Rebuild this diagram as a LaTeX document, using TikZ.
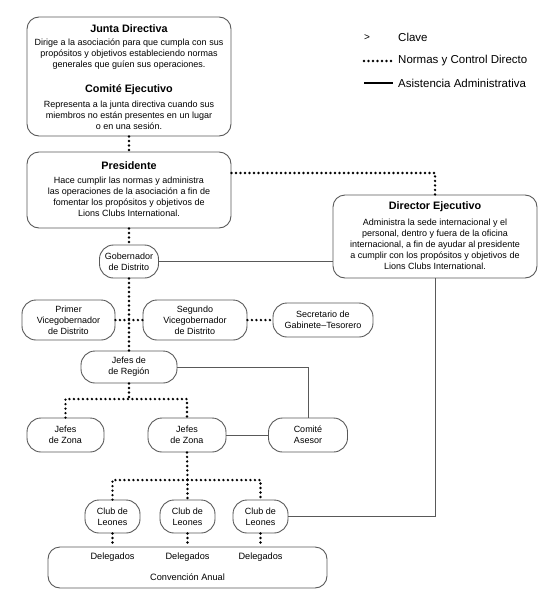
\documentclass[tikz,border=0pt]{standalone}
\usepackage{fontspec}
\setmainfont{Liberation Sans}
\begin{document}
\begin{tikzpicture}[x=1pt,y=-1pt,
  box/.style={draw=black!65, line width=0.9pt, rounded corners=12pt, inner sep=0pt, align=center, font=\fontsize{9}{11}\selectfont},
  pill/.style={box, rounded corners=14pt},
  ttl/.style={font=\bfseries\fontsize{10.8}{12}\selectfont, inner sep=0pt},
  body/.style={font=\fontsize{9}{11}\selectfont, align=center, inner sep=0pt},
  dots/.style={line width=2.6pt, dash pattern=on 0pt off 4.5pt, line cap=round},
  solidline/.style={draw=black!65, line width=1pt},
  lbl/.style={font=\fontsize{9.2}{11}\selectfont, inner sep=0pt},
  leg/.style={anchor=west, inner sep=0pt, font=\fontsize{11.5}{13}\selectfont}
]
\useasboundingbox (0,0) rectangle (541,597);
% main boxes
\node[box, minimum width=204pt, minimum height=119pt] (junta) at (129,76.5) {};
\node[ttl] (jt) at (129,29) {Junta Directiva};
\node[body] (jb) at (129,54) {Dirige a la asociación para que cumpla con sus\\propósitos y objetivos estableciendo normas\\generales que guíen sus operaciones.};
\node[ttl] (ct) at (129,90) {Comité Ejecutivo};
\node[body] (cb) at (129,115) {Representa a la junta directiva cuando sus\\miembros no están presentes en un lugar\\o en una sesión.};

\node[box, minimum width=204pt, minimum height=76pt] (pres) at (129,190) {};
\node[ttl] (pt) at (129,166) {Presidente};
\node[body] (pb) at (129,196.5) {Hace cumplir las normas y administra\\las operaciones de la asociación a fin de\\fomentar los propósitos y objetivos de\\Lions Clubs International.};

\node[box, minimum width=204pt, minimum height=83pt] (dir) at (435,236.5) {};
\node[ttl] (dt) at (435,207) {Director Ejecutivo};
\node[body] (db) at (435,244) {Administra la sede internacional y el\\personal, dentro y fuera de la oficina\\internacional, a fin de ayudar al presidente\\a cumplir con los propósitos y objetivos de\\Lions Clubs International.};

% small boxes
\node[pill, minimum width=59pt, minimum height=33pt] (gob) at (129,261.5) {Gobernador\\de Distrito};
\node[pill, minimum width=93pt, minimum height=40pt] (pv) at (68.5,320) {Primer\\Vicegobernador\\de Distrito};
\node[pill, minimum width=104pt, minimum height=40pt] (sv) at (195,320) {Segundo\\Vicegobernador\\de Distrito};
\node[pill, minimum width=100pt, minimum height=34pt] (sec) at (323,320) {Secretario de\\Gabinete–Tesorero};
\node[pill, minimum width=96pt, minimum height=32pt] (reg) at (129,367) {Jefes de\\de Región};
\node[pill, minimum width=77pt, minimum height=34pt] (z1) at (65.5,435) {Jefes\\de Zona};
\node[pill, minimum width=78pt, minimum height=34pt] (z2) at (187,435) {Jefes\\de Zona};
\node[pill, minimum width=79pt, minimum height=34pt] (com) at (308,435) {Comité\\Asesor};
\node[pill, minimum width=55pt, minimum height=33pt] (c1) at (112.5,516.5) {Club de\\Leones};
\node[pill, minimum width=55pt, minimum height=33pt] (c2) at (187.5,516.5) {Club de\\Leones};
\node[pill, minimum width=55pt, minimum height=33pt] (c3) at (260.5,516.5) {Club de\\Leones};
\node[box, minimum width=279pt, minimum height=41pt] (conv) at (187.5,567.5) {};
\node[lbl] (d1) at (112.5,557) {Delegados};
\node[lbl] (d2) at (187.5,557) {Delegados};
\node[lbl] (d3) at (260.5,557) {Delegados};
\node[lbl] (ca) at (187.5,577) {Convención Anual};

% connectors
\coordinate (pd) at (435,173);
\draw[dots] (junta.south) -- (pres.north);
\draw[dots] (pres.east |- pd) -- (pd) -- (dir.north);
\draw[dots] (pres.south) -- (gob.north);
\draw[dots] (gob.south) -- (reg.north);
\draw[dots] (pv.east) -- (sv.west);
\draw[dots] (sv.east) -- (sec.west);
\draw[solidline] (gob.east) -- (dir.west |- gob.east);
\draw[solidline] (dir.south) |- (c3.east);
\draw[solidline] (reg.east) -| (com.north);
\draw[solidline] (z2.east) -- (com.west);
\coordinate (zj) at (129,399);
\draw[dots] (reg.south) -- (zj);
\draw[dots] (z1.north) |- (z2.north |- zj) -- (z2.north);
\coordinate (cj) at (187.5,480);
\draw[dots] (z2.south) -- (cj);
\draw[dots] (c1.north) |- (c3.north |- cj) -- (c3.north);
\draw[dots] (cj) -- (c2.north);
\draw[dots] (c1.south) -- (c1.south |- conv.north);
\draw[dots] (c2.south) -- (c2.south |- conv.north);
\draw[dots] (c3.south) -- (c3.south |- conv.north);

% legend
\node[inner sep=0pt, font=\fontsize{10}{12}\selectfont] (lg) at (367,38) {>};
\node[leg] (lc) at (398,37) {Clave};
\node[leg] (ln) at (398,61) {Normas y Control Directo};
\node[leg] (la) at (398,83) {Asistencia Administrativa};
\coordinate (l1a) at (364,61);
\coordinate (l2a) at (364,83);
\draw[dots] (l1a) -- (ln.west -| 392,0);
\draw[line width=1.6pt, draw=black] (l2a) -- (la.west -| 393,0);
\end{tikzpicture}
\end{document}
